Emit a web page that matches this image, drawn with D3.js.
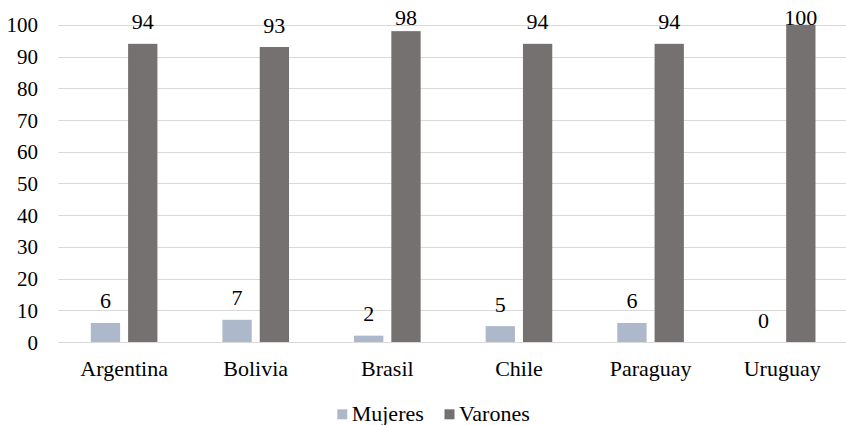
<!DOCTYPE html>
<html>
<head>
<meta charset="utf-8">
<script src="https://cdn.jsdelivr.net/npm/d3@7"></script>
</head>
<body style="margin:0;padding:0;background:#fff">
<svg id="fig" width="846" height="425" style="display:block"></svg>
<script>
// Share of women and men per country (percent)
const categories = ["Argentina", "Bolivia", "Brasil", "Chile", "Paraguay", "Uruguay"];
const seriesNames = ["Mujeres", "Varones"];
const mujeres = [6, 7, 2, 5, 6, 0];
const varones = [94, 93, 98, 94, 94, 100];
const yTicks = [0, 10, 20, 30, 40, 50, 60, 70, 80, 90, 100];

const colors = { Mujeres: "#adb9ca", Varones: "#767171" };
const seriesValues = { Mujeres: mujeres, Varones: varones };
const families = ["Liberation Serif", "Times New Roman"];
const fontStack = families.map(f => `"${f}"`).join(", ");

const svg = d3.select("#fig").attr("font-family", fontStack).style("font-family", fontStack);

const x0 = d3.scaleBand().domain(categories).range([58.3, 848]).padding(0);
const x1 = d3.scaleBand().domain(seriesNames).range([-33.3, 33.3]).paddingInner(0.214).paddingOuter(0);
const y = d3.scaleLinear().domain([0, 100]).range([342, 24.8]);

// Horizontal gridlines (including the baseline)
svg.append("g")
  .selectAll("line")
  .data(yTicks)
  .join("line")
  .attr("x1", 58.3)
  .attr("x2", 846)
  .attr("y1", d => Math.round(y(d)) + 0.5)
  .attr("y2", d => Math.round(y(d)) + 0.5)
  .attr("stroke", "#d9d9d9")
  .attr("stroke-width", 1);

// Y axis labels
const yAxis = d3.axisLeft(y).tickValues(yTicks).tickSize(0).tickPadding(0);
const yg = svg.append("g").attr("transform", "translate(38,0)").call(yAxis);
yg.attr("font-family", null).attr("font-size", null);
yg.select(".domain").remove();
yg.selectAll("text")
  .style("font-family", fontStack)
  .style("font-size", "21px")
  .attr("fill", "#000")
  .attr("dy", "0.34em");

// Category labels
const xAxis = d3.axisBottom(x0).tickSize(0).tickPadding(0);
const xg = svg.append("g").attr("transform", "translate(0,376)").call(xAxis);
xg.attr("font-family", null).attr("font-size", null);
xg.select(".domain").remove();
xg.selectAll("text")
  .style("font-family", fontStack)
  .style("font-size", "22px")
  .attr("fill", "#000")
  .attr("dy", 0);

// Bars
const rows = [];
categories.forEach((c, i) => {
  seriesNames.forEach(s => rows.push({ cat: c, series: s, value: seriesValues[s][i] }));
});

const barX = d => x0(d.cat) + x0.bandwidth() / 2 + x1(d.series);

svg.append("g")
  .selectAll("rect")
  .data(rows)
  .join("rect")
  .attr("x", barX)
  .attr("width", x1.bandwidth())
  .attr("y", d => y(d.value))
  .attr("height", d => y(0) - y(d.value))
  .attr("fill", d => colors[d.series]);

// Value labels above bars (kept inside the plot area at the top)
svg.append("g")
  .selectAll("text")
  .data(rows)
  .join("text")
  .attr("x", d => barX(d) + x1.bandwidth() / 2)
  .attr("y", d => Math.max(y(d.value) - 14.5, 25))
  .attr("text-anchor", "middle")
  .style("font-family", fontStack)
  .style("font-size", "22px")
  .attr("fill", "#000")
  .text(d => d.value);

// Legend
const legendItems = [
  { name: "Mujeres", x: 337.3 },
  { name: "Varones", x: 444.5 }
];
const lg = svg.append("g");
const li = lg.selectAll("g").data(legendItems).join("g")
  .attr("transform", d => `translate(${d.x},409.3)`);
li.append("rect")
  .attr("width", 10)
  .attr("height", 10)
  .attr("fill", d => colors[d.name]);
li.append("text")
  .attr("x", 14.4)
  .attr("y", 12)
  .style("font-family", fontStack)
  .style("font-size", "22px")
  .attr("fill", "#000")
  .text(d => d.name);
</script>
</body>
</html>
